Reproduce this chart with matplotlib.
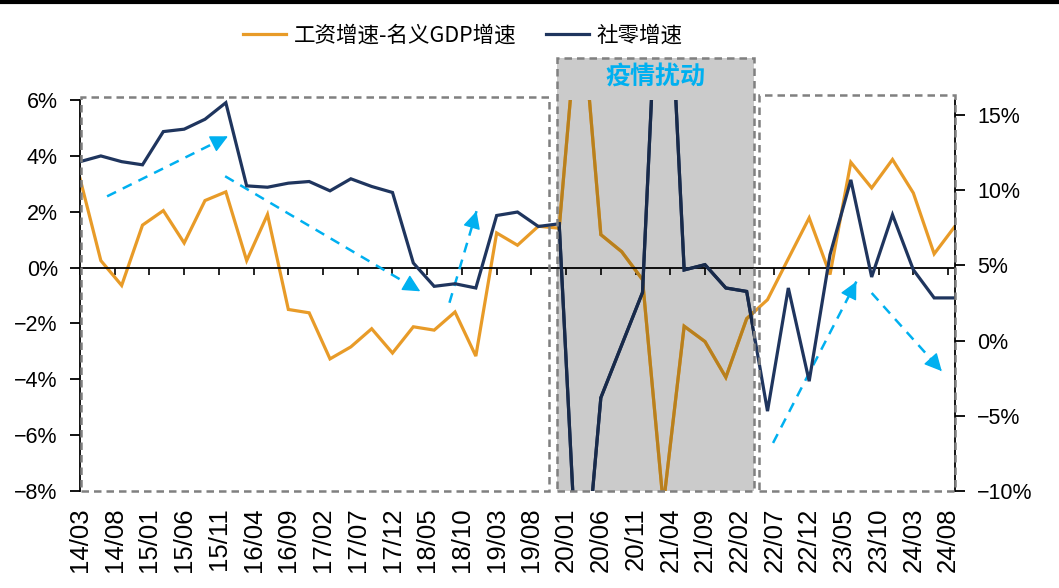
import matplotlib
matplotlib.use('Agg')
import matplotlib.pyplot as plt
import pandas as pd
from matplotlib.patches import Rectangle
from matplotlib.lines import Line2D
from matplotlib.ticker import FuncFormatter

plt.rcParams['font.family'] = ['Liberation Sans', 'Noto Sans CJK SC', 'DejaVu Sans']

# ---------------- data ----------------
start = pd.Period('2014-03', 'M')
quarter_months = pd.period_range('2014-03', '2024-09', freq='M')[::3]

wage_minus_gdp = [3.19, 0.25, -0.64, 1.52, 2.04, 0.88, 2.40, 2.71, 0.25, 1.90,
                  -1.50, -1.62, -3.27, -2.84, -2.19, -3.06, -2.12, -2.24, -1.59, -3.17,
                  1.24, 0.80, 1.48, 1.41, 10.0, 1.18, 0.57, -0.43, -8.5, -2.10,
                  -2.65, -3.93, -1.83, -1.15, 0.32, 1.78, -0.25, 3.77, 2.85, 3.87,
                  2.67, 0.49, 1.48]
retail_growth = [11.9, 12.28, 11.9, 11.69, 13.9, 14.06, 14.72, 15.82, 10.29, 10.2,
                 10.47, 10.58, 9.96, 10.76, 10.25, 9.85, 5.16, 3.61, 3.78, 3.5,
                 8.32, 8.55, 7.59, 7.77, -19.5, -3.8, -0.3, 3.2, 33.0, 4.7,
                 5.05, 3.5, 3.27, -4.69, 3.5, -2.7, 5.71, 10.69, 4.23, 8.37,
                 4.71, 2.84, 2.84]

tick_labels = ['14/03', '14/08', '15/01', '15/06', '15/11', '16/04', '16/09', '17/02',
               '17/07', '17/12', '18/05', '18/10', '19/03', '19/08', '20/01', '20/06',
               '20/11', '21/04', '21/09', '22/02', '22/07', '22/12', '23/05', '23/10',
               '24/03', '24/08']

series_names = ['工资增速-名义GDP增速', '社零增速']
shade_label = '疫情扰动'

# annotation regions (months from start, left-axis values)
regions = [(0.15, 67.5, 6.12), (68.7, 97.1, 7.52), (97.8, 126.0, 6.19)]
shade_index = 1
arrows = [((3.9, 2.55), (21.3, 4.70)),
          ((20.9, 3.27), (49.0, -0.85)),
          ((53.2, -1.26), (57.1, 2.02)),
          ((99.8, -6.28), (111.8, -0.5)),
          ((114.0, -0.91), (124.1, -3.71))]

# ---------------- positions ----------------
x = [(p - start).n for p in quarter_months]
tick_pos = [(pd.Period('20' + t[:2] + '-' + t[3:], 'M') - start).n for t in tick_labels]

ORANGE = '#E89B28'
ORANGE_D = '#B8801E'
NAVY = '#1F355E'
NAVY_D = '#182A4A'
CYAN = '#00B0F0'
GRAY = '#808080'

fig = plt.figure(figsize=(10.59, 5.88), dpi=100)
ax = fig.add_axes([80 / 1059, 1 - 491 / 588, 875 / 1059, 391 / 588])
ax.set_xlim(0, 126)
ax.set_ylim(-8, 6)
ax.patch.set_visible(False)
ax2 = ax.twinx()
ax2.set_ylim(-10, 16)

pct = FuncFormatter(lambda v, p: f'{v:.0f}%'.replace('-', '\u2212'))

# shaded region
x0, x1, ytop = regions[shade_index]
ax.add_patch(Rectangle((x0, -8), x1 - x0, ytop + 8, facecolor='#CBCBCB',
                       edgecolor='none', zorder=0.5, clip_on=False))

l1, = ax.plot(x, wage_minus_gdp, color=ORANGE, lw=2.3, zorder=2, solid_joinstyle='miter')
l1d, = ax.plot(x, wage_minus_gdp, color=ORANGE_D, lw=2.3, zorder=2.1, solid_joinstyle='miter')
l2, = ax2.plot(x, retail_growth, color=NAVY, lw=2.3, zorder=2, solid_joinstyle='miter')
l2d, = ax2.plot(x, retail_growth, color=NAVY_D, lw=2.3, zorder=2.1, solid_joinstyle='miter')
clip_rect = Rectangle((x0, -8), x1 - x0, 14, transform=ax.transData)
l1d.set_clip_path(clip_rect)
l2d.set_clip_path(clip_rect)

# dashed region borders
for (a, b, top) in regions:
    ax2.add_patch(Rectangle((a, -8), b - a, top + 8, transform=ax.transData,
                            fill=False, edgecolor=GRAY, lw=1.8,
                            linestyle=(0, (3, 2)), zorder=5, clip_on=False))

ax.text((x0 + x1) / 2, 6.8, shade_label, color=CYAN, fontsize=18, fontweight='bold',
        ha='center', va='center', family=['Noto Sans CJK SC', 'DejaVu Sans'],
        clip_on=False, zorder=6)

# arrows
for (s, e) in arrows:
    ax.plot([s[0], e[0]], [s[1], e[1]], color=CYAN, lw=1.8, linestyle=(0, (4, 3)),
            zorder=3)
    near = (e[0] - 0.02 * (e[0] - s[0]), e[1] - 0.02 * (e[1] - s[1]))
    ax.annotate('', xy=e, xytext=near,
                arrowprops=dict(arrowstyle='-|>,head_length=0.6,head_width=0.3',
                                color=CYAN, lw=1.0, mutation_scale=18,
                                shrinkA=0, shrinkB=0), zorder=3)

# axes styling
for s in ['top', 'right']:
    ax.spines[s].set_visible(False)
for s in ['top', 'bottom', 'left']:
    ax2.spines[s].set_visible(False)
ax.spines['left'].set_linewidth(1.3)
ax2.spines['right'].set_linewidth(1.3)
ax.spines['bottom'].set_position(('data', 0))
ax.spines['bottom'].set_linewidth(1.3)

ax.set_xticks(tick_pos)
ax.tick_params(axis='x', direction='out', length=5, width=1.2, labelbottom=False)
ax.set_yticks(range(-8, 7, 2))
ax.yaxis.set_major_formatter(pct)
ax.tick_params(axis='y', direction='out', length=7, width=1.3, pad=9, labelsize=15.5)
ax2.set_yticks(range(-10, 16, 5))
ax2.yaxis.set_major_formatter(pct)
ax2.tick_params(axis='y', direction='out', length=7, width=1.3, pad=9, labelsize=15.5)

sec = ax.secondary_xaxis('bottom')
sec.set_xticks(tick_pos, labels=tick_labels)
sec.tick_params(length=0, pad=12, labelsize=18.5, labelrotation=90)
sec.spines['bottom'].set_visible(False)

fig.legend([l1, l2], series_names, loc='center', bbox_to_anchor=(0.437, 0.94), ncol=2,
           frameon=False, prop={'family': ['Noto Sans CJK SC', 'DejaVu Sans'], 'size': 15.5},
           handlelength=2.0, columnspacing=1.4, handletextpad=0.35)

fig.add_artist(Line2D([0, 1], [1 - 2 / 588, 1 - 2 / 588], color='black', lw=3,
                      transform=fig.transFigure))

fig.savefig('out.png', dpi=100)
